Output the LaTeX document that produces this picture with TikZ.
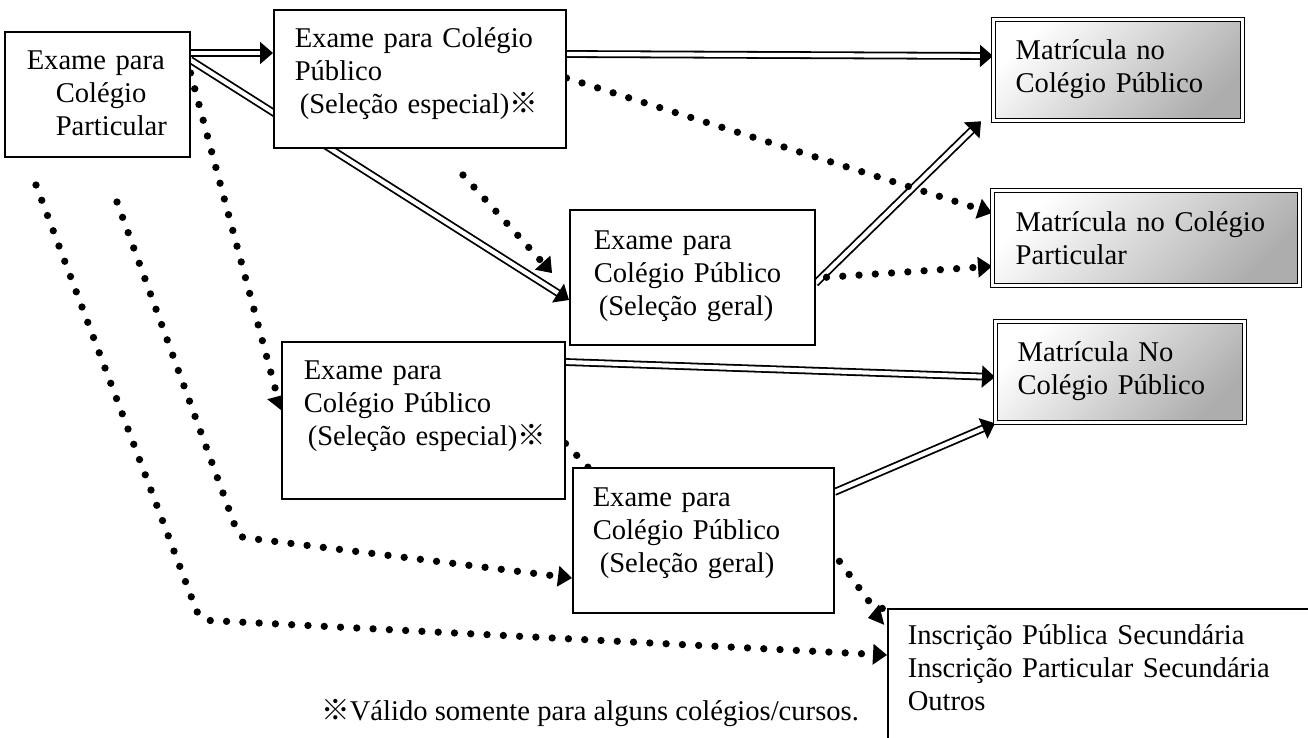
\documentclass[tikz,border=0pt]{standalone}
\usepackage{fontspec}
\setmainfont{Liberation Serif}
\newfontfamily\cjkfont{Noto Sans CJK JP}
\usetikzlibrary{arrows.meta,backgrounds}
\newcommand{\kome}{{\cjkfont ※}}
\hyphenpenalty=10000

\begin{document}
\begin{tikzpicture}[
  exbox/.style={draw, line width=1.5pt, fill=white, anchor=north west, align=left, inner ysep=0pt, font=\fontsize{28.6}{33}\selectfont},
  matbox/.style={exbox, double, double distance=2.4pt, line width=1.3pt, top color=white, bottom color=black!32, shading angle=45},
  dblarrow/.style={double, double distance=4.2pt, line width=1.8pt, -{Triangle[length=13pt,width=22pt]}},
  dotarrow/.style={line width=7.3pt, line cap=round, dash pattern=on 0pt off 16.3pt, -{Triangle[length=14pt,width=21pt,line width=0pt]}}]
\useasboundingbox (0pt,0pt) rectangle (1308pt,-737pt);
\node (A) [exbox, inner xsep=22pt, text width=141pt, text height=38pt, text depth=87pt] at (4pt, -31pt) {Exame~para\\\hspace*{29pt}Colégio\\\hspace*{29pt}Particular};
\node (B) [exbox, inner xsep=21pt, text width=250pt, text height=38pt, text depth=100pt] at (273pt, -9pt) {Exame~para~Colégio\\Público\\\hspace*{5pt}(Seleção~especial)\kome};
\node (C) [exbox, inner xsep=24pt, text width=197pt, text height=40pt, text depth=95pt] at (569pt, -209pt) {Exame~para\\Colégio~Público\\\hspace*{5pt}(Seleção~geral)};
\node (D) [exbox, inner xsep=22pt, text width=239pt, text height=38pt, text depth=119pt] at (281pt, -341pt) {Exame~para\\Colégio~Público\\\hspace*{4pt}(Seleção~especial)\kome};
\node (E) [exbox, inner xsep=20pt, text width=221pt, text height=39pt, text depth=106pt] at (572pt, -467pt) {Exame~para\\Colégio~Público\\\hspace*{7pt}(Seleção~geral)};
\node (M1) [matbox, inner xsep=22pt, text width=205pt, text height=40pt, text depth=61pt] at (993pt, -19pt) {Matrícula~no\\Colégio~Público};
\node (M2) [matbox, inner xsep=23pt, text width=261pt, text height=41pt, text depth=54pt] at (992pt, -190pt) {Matrícula~no~Colégio\\Particular};
\node (M3) [matbox, inner xsep=22pt, text width=205pt, text height=40pt, text depth=61pt] at (995pt, -321pt) {Matrícula~No\\Colégio~Público};
\node (F) [exbox, inner xsep=20pt, text width=440pt, text height=36pt, text depth=160pt] at (887pt, -608pt) {Inscrição~Pública~Secundária\\Inscrição~Particular~Secundária\\Outros};
\node (note) [anchor=west, inner sep=0pt, font=\fontsize{28.6}{33}\selectfont] at (321pt, -713pt) {\kome Válido somente para alguns colégios/cursos.};
\coordinate (s1) at (463pt, -175pt);
\coordinate (s2) at (117pt, -202pt);
\coordinate (k2) at (239pt, -537pt);
\coordinate (s3) at (36pt, -185pt);
\coordinate (k3) at (200pt, -620pt);
\begin{scope}[on background layer]
% double lines
\draw [dblarrow] ([yshift=-22pt]A.north east) -- ([yshift=-44pt]B.north west);
\draw [dblarrow] ([yshift=-29pt]A.north east) -- ([yshift=-91pt]C.north west);
\draw [dblarrow] ([yshift=-45pt]B.north east) -- ([yshift=-37pt]M1.north west);
\draw [dblarrow] ([yshift=-6pt]C.east) -- ([xshift=-12pt]M1.south west);
\draw [dblarrow] ([yshift=-21pt]D.north east) -- ([yshift=-56pt]M3.north west);
\draw [dblarrow] ([yshift=-25pt]E.north east) -- (M3.south west);
% dotted lines
\draw [dotarrow] ([yshift=-42pt]A.north east) -- ([yshift=-69pt]D.north west);
\draw [dotarrow, rounded corners=6pt] (s2) -- (k2) -- ([yshift=-111pt]E.north west);
\draw [dotarrow, rounded corners=10pt] (s3) -- (k3) -- ([yshift=-47pt]F.north west);
\draw [dotarrow] ([yshift=-69pt]B.north east) -- ([yshift=-23pt]M2.north west);
\draw [dotarrow] ([xshift=11pt]C.east) -- ([yshift=20pt]M2.south west);
\draw [dotarrow] (s1) -- ([xshift=-17pt,yshift=-64pt]C.north west);
\draw [dotarrow] ([yshift=56pt]D.south east) -- (600pt,-480pt) -- (820pt,-535pt) -- (871pt,-604pt) .. controls (892pt,-612pt) .. ([xshift=-19pt,yshift=-10pt]F.north west);
\end{scope}
\end{tikzpicture}
\end{document}
